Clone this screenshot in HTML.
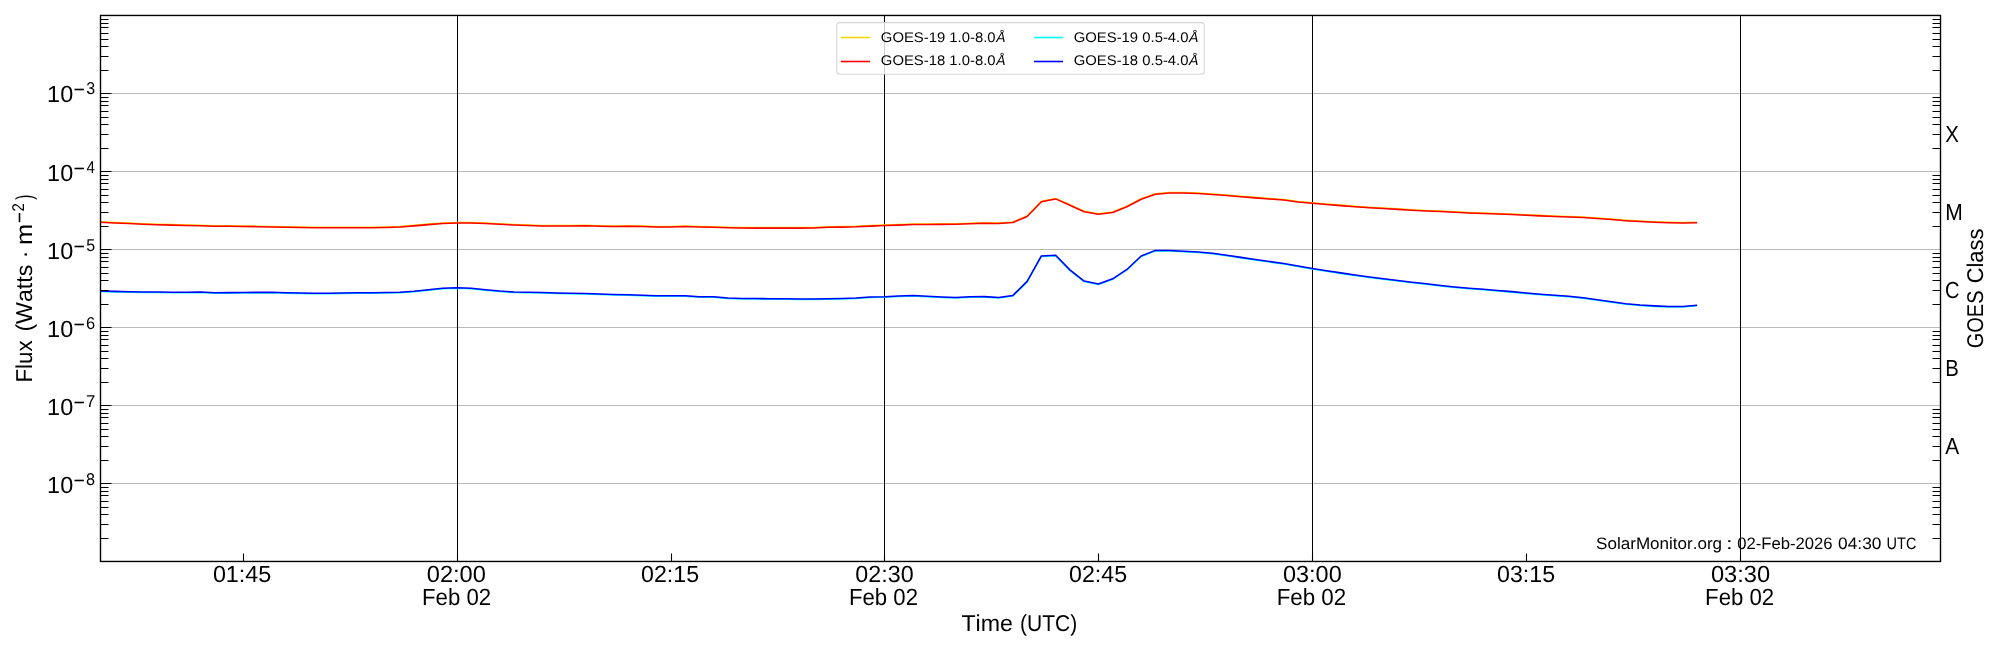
<!DOCTYPE html><html><head><meta charset="utf-8"><style>html,body{margin:0;padding:0;background:#fff;overflow:hidden;width:2000px;height:650px;}svg{display:block;will-change:transform;}</style></head><body><svg width="2000" height="650" viewBox="0 0 2000 650">
<rect x="0" y="0" width="2000" height="650" fill="#ffffff"/>
<defs><clipPath id="ax"><rect x="100.5" y="15.46" width="1840" height="546"/></clipPath></defs>
<path d="M100.5,93.5 H1940.5 M100.5,171.5 H1940.5 M100.5,249.5 H1940.5 M100.5,327.5 H1940.5 M100.5,405.5 H1940.5 M100.5,483.5 H1940.5" stroke="#b9b9b9" stroke-width="1" fill="none"/>
<path d="M457.5,15.46 V561.46 M884.5,15.46 V561.46 M1312.5,15.46 V561.46 M1740.5,15.46 V561.46" stroke="#000" stroke-width="1" fill="none"/>
<g clip-path="url(#ax)" fill="none" stroke-width="1.55" stroke-linejoin="round" stroke-linecap="butt">
<path d="M86.26,221.80 L100.51,221.80 L114.77,222.42 L129.02,223.06 L143.28,223.70 L157.53,224.23 L171.79,224.64 L186.04,224.92 L200.30,225.31 L214.56,225.65 L228.81,225.79 L243.07,225.93 L257.32,226.15 L271.58,226.43 L285.83,226.66 L300.09,226.90 L314.34,227.28 L328.60,227.30 L342.86,227.30 L357.11,227.30 L371.37,227.27 L385.62,226.98 L399.88,226.60 L414.13,225.38 L428.39,224.14 L442.64,223.03 L456.90,222.52 L471.16,222.50 L485.41,223.07 L499.67,223.78 L513.92,224.50 L528.18,225.00 L542.43,225.40 L556.69,225.60 L570.94,225.50 L585.20,225.31 L599.46,225.80 L613.71,226.00 L627.97,225.70 L642.22,226.09 L656.48,226.50 L670.73,226.50 L684.99,226.10 L699.24,226.57 L713.50,226.79 L727.76,227.29 L742.01,227.59 L756.27,227.60 L770.52,227.60 L784.78,227.60 L799.03,227.60 L813.29,227.50 L827.54,226.82 L841.80,226.61 L856.06,226.31 L870.31,225.63 L884.57,225.02 L898.82,224.63 L913.08,224.00 L927.33,223.93 L941.59,223.86 L955.84,223.77 L970.10,223.28 L984.36,222.81 L998.61,222.96 L1012.87,222.01 L1027.12,216.07 L1041.38,201.32 L1055.63,198.41 L1069.89,204.75 L1084.14,211.23 L1098.40,213.80 L1112.66,212.09 L1126.91,206.24 L1141.17,198.74 L1155.42,193.80 L1169.68,192.43 L1183.93,192.40 L1198.19,193.01 L1212.44,193.96 L1226.70,194.98 L1240.96,196.20 L1255.21,197.38 L1269.47,198.56 L1283.72,199.58 L1297.98,201.40 L1312.23,202.77 L1326.49,204.00 L1340.74,205.11 L1355.00,206.18 L1369.26,207.24 L1383.51,208.04 L1397.77,208.87 L1412.02,209.70 L1426.28,210.41 L1440.53,211.07 L1454.79,211.76 L1469.04,212.55 L1483.30,213.04 L1497.56,213.52 L1511.81,214.02 L1526.07,214.70 L1540.32,215.39 L1554.58,215.92 L1568.83,216.42 L1583.09,217.02 L1597.34,217.95 L1611.60,219.10 L1625.86,220.15 L1640.11,220.97 L1654.37,221.69 L1668.62,222.22 L1682.88,222.55 L1697.13,222.31" stroke="#FFD700"/>
<path d="M86.26,222.30 L100.51,222.30 L114.77,222.92 L129.02,223.56 L143.28,224.20 L157.53,224.73 L171.79,225.14 L186.04,225.42 L200.30,225.81 L214.56,226.15 L228.81,226.29 L243.07,226.43 L257.32,226.65 L271.58,226.93 L285.83,227.16 L300.09,227.40 L314.34,227.78 L328.60,227.80 L342.86,227.80 L357.11,227.80 L371.37,227.77 L385.62,227.48 L399.88,227.10 L414.13,225.88 L428.39,224.64 L442.64,223.53 L456.90,223.02 L471.16,223.00 L485.41,223.57 L499.67,224.28 L513.92,225.00 L528.18,225.50 L542.43,225.90 L556.69,226.10 L570.94,226.00 L585.20,225.81 L599.46,226.30 L613.71,226.50 L627.97,226.20 L642.22,226.59 L656.48,227.00 L670.73,227.00 L684.99,226.60 L699.24,227.07 L713.50,227.29 L727.76,227.79 L742.01,228.09 L756.27,228.10 L770.52,228.10 L784.78,228.10 L799.03,228.10 L813.29,228.00 L827.54,227.32 L841.80,227.11 L856.06,226.81 L870.31,226.13 L884.57,225.52 L898.82,225.13 L913.08,224.50 L927.33,224.43 L941.59,224.36 L955.84,224.27 L970.10,223.78 L984.36,223.31 L998.61,223.46 L1012.87,222.51 L1027.12,216.57 L1041.38,201.82 L1055.63,198.91 L1069.89,205.25 L1084.14,211.73 L1098.40,214.30 L1112.66,212.59 L1126.91,206.74 L1141.17,199.24 L1155.42,194.30 L1169.68,192.93 L1183.93,192.90 L1198.19,193.51 L1212.44,194.46 L1226.70,195.48 L1240.96,196.70 L1255.21,197.88 L1269.47,199.06 L1283.72,200.08 L1297.98,201.90 L1312.23,203.27 L1326.49,204.50 L1340.74,205.61 L1355.00,206.68 L1369.26,207.74 L1383.51,208.54 L1397.77,209.37 L1412.02,210.20 L1426.28,210.91 L1440.53,211.57 L1454.79,212.26 L1469.04,213.05 L1483.30,213.54 L1497.56,214.02 L1511.81,214.52 L1526.07,215.20 L1540.32,215.89 L1554.58,216.42 L1568.83,216.92 L1583.09,217.52 L1597.34,218.45 L1611.60,219.60 L1625.86,220.65 L1640.11,221.47 L1654.37,222.19 L1668.62,222.72 L1682.88,223.05 L1697.13,222.81" stroke="#FF0000"/>
<path d="M86.26,291.50 L100.51,291.50 L114.77,291.89 L129.02,292.27 L143.28,292.43 L157.53,292.58 L171.79,292.70 L186.04,292.69 L200.30,292.51 L214.56,293.18 L228.81,293.11 L243.07,292.97 L257.32,292.86 L271.58,292.85 L285.83,293.31 L300.09,293.50 L314.34,293.79 L328.60,293.71 L342.86,293.44 L357.11,293.26 L371.37,293.18 L385.62,292.99 L399.88,292.70 L414.13,291.76 L428.39,290.18 L442.64,288.74 L456.90,288.22 L471.16,288.67 L485.41,290.23 L499.67,291.57 L513.92,292.50 L528.18,292.80 L542.43,293.10 L556.69,293.49 L570.94,293.80 L585.20,294.01 L599.46,294.50 L613.71,294.99 L627.97,295.20 L642.22,295.79 L656.48,296.30 L670.73,296.30 L684.99,296.30 L699.24,297.15 L713.50,297.20 L727.76,298.48 L742.01,298.98 L756.27,299.09 L770.52,299.20 L784.78,299.30 L799.03,299.49 L813.29,299.50 L827.54,299.21 L841.80,299.01 L856.06,298.52 L870.31,297.55 L884.57,297.21 L898.82,296.55 L913.08,296.10 L927.33,296.82 L941.59,297.53 L955.84,298.05 L970.10,297.30 L984.36,297.13 L998.61,298.01 L1012.87,295.92 L1027.12,281.88 L1041.38,256.48 L1055.63,255.73 L1069.89,270.39 L1084.14,281.53 L1098.40,284.50 L1112.66,279.33 L1126.91,269.96 L1141.17,256.44 L1155.42,250.90 L1169.68,250.90 L1183.93,251.70 L1198.19,252.52 L1212.44,253.85 L1226.70,255.66 L1240.96,257.89 L1255.21,260.07 L1269.47,262.03 L1283.72,264.06 L1297.98,266.50 L1312.23,268.95 L1326.49,271.24 L1340.74,273.36 L1355.00,275.40 L1369.26,277.40 L1383.51,279.19 L1397.77,280.97 L1412.02,282.72 L1426.28,284.29 L1440.53,285.91 L1454.79,287.43 L1469.04,288.71 L1483.30,289.82 L1497.56,290.91 L1511.81,292.11 L1526.07,293.59 L1540.32,294.82 L1554.58,295.83 L1568.83,296.68 L1583.09,298.27 L1597.34,300.20 L1611.60,302.34 L1625.86,304.22 L1640.11,305.50 L1654.37,306.38 L1668.62,307.09 L1682.88,307.03 L1697.13,305.84" stroke="#00FFFF"/>
<path d="M86.26,291.00 L100.51,291.00 L114.77,291.39 L129.02,291.77 L143.28,291.93 L157.53,292.08 L171.79,292.20 L186.04,292.19 L200.30,292.01 L214.56,292.68 L228.81,292.61 L243.07,292.47 L257.32,292.36 L271.58,292.35 L285.83,292.81 L300.09,293.00 L314.34,293.29 L328.60,293.21 L342.86,292.94 L357.11,292.76 L371.37,292.68 L385.62,292.49 L399.88,292.20 L414.13,291.26 L428.39,289.68 L442.64,288.24 L456.90,287.72 L471.16,288.17 L485.41,289.73 L499.67,291.07 L513.92,292.00 L528.18,292.30 L542.43,292.60 L556.69,292.99 L570.94,293.30 L585.20,293.51 L599.46,294.00 L613.71,294.49 L627.97,294.70 L642.22,295.29 L656.48,295.80 L670.73,295.80 L684.99,295.80 L699.24,296.65 L713.50,296.70 L727.76,297.98 L742.01,298.48 L756.27,298.59 L770.52,298.70 L784.78,298.80 L799.03,298.99 L813.29,299.00 L827.54,298.71 L841.80,298.51 L856.06,298.02 L870.31,297.05 L884.57,296.71 L898.82,296.05 L913.08,295.60 L927.33,296.32 L941.59,297.03 L955.84,297.55 L970.10,296.80 L984.36,296.63 L998.61,297.51 L1012.87,295.42 L1027.12,281.38 L1041.38,255.98 L1055.63,255.23 L1069.89,269.89 L1084.14,281.03 L1098.40,284.00 L1112.66,278.83 L1126.91,269.46 L1141.17,255.94 L1155.42,250.40 L1169.68,250.40 L1183.93,251.20 L1198.19,252.02 L1212.44,253.35 L1226.70,255.16 L1240.96,257.39 L1255.21,259.57 L1269.47,261.53 L1283.72,263.56 L1297.98,266.00 L1312.23,268.45 L1326.49,270.74 L1340.74,272.86 L1355.00,274.90 L1369.26,276.90 L1383.51,278.69 L1397.77,280.47 L1412.02,282.22 L1426.28,283.79 L1440.53,285.41 L1454.79,286.93 L1469.04,288.21 L1483.30,289.32 L1497.56,290.41 L1511.81,291.61 L1526.07,293.09 L1540.32,294.32 L1554.58,295.33 L1568.83,296.18 L1583.09,297.77 L1597.34,299.70 L1611.60,301.84 L1625.86,303.72 L1640.11,305.00 L1654.37,305.88 L1668.62,306.59 L1682.88,306.53 L1697.13,305.34" stroke="#0000FF"/>
</g>
<path d="M100.5,15.5 h11 M100.5,70.5 h8 M1940.5,70.5 h-8 M100.5,56.5 h8 M1940.5,56.5 h-8 M100.5,46.5 h8 M1940.5,46.5 h-8 M100.5,39.5 h8 M1940.5,39.5 h-8 M100.5,33.5 h8 M1940.5,33.5 h-8 M100.5,27.5 h8 M1940.5,27.5 h-8 M100.5,23.5 h8 M1940.5,23.5 h-8 M100.5,19.5 h8 M1940.5,19.5 h-8 M100.5,93.5 h11 M100.5,148.5 h8 M1940.5,148.5 h-8 M100.5,134.5 h8 M1940.5,134.5 h-8 M100.5,124.5 h8 M1940.5,124.5 h-8 M100.5,117.5 h8 M1940.5,117.5 h-8 M100.5,111.5 h8 M1940.5,111.5 h-8 M100.5,105.5 h8 M1940.5,105.5 h-8 M100.5,101.5 h8 M1940.5,101.5 h-8 M100.5,97.5 h8 M1940.5,97.5 h-8 M100.5,171.5 h11 M100.5,226.5 h8 M1940.5,226.5 h-8 M100.5,212.5 h8 M1940.5,212.5 h-8 M100.5,202.5 h8 M1940.5,202.5 h-8 M100.5,195.5 h8 M1940.5,195.5 h-8 M100.5,189.5 h8 M1940.5,189.5 h-8 M100.5,183.5 h8 M1940.5,183.5 h-8 M100.5,179.5 h8 M1940.5,179.5 h-8 M100.5,175.5 h8 M1940.5,175.5 h-8 M100.5,249.5 h11 M100.5,304.5 h8 M1940.5,304.5 h-8 M100.5,290.5 h8 M1940.5,290.5 h-8 M100.5,280.5 h8 M1940.5,280.5 h-8 M100.5,273.5 h8 M1940.5,273.5 h-8 M100.5,267.5 h8 M1940.5,267.5 h-8 M100.5,261.5 h8 M1940.5,261.5 h-8 M100.5,257.5 h8 M1940.5,257.5 h-8 M100.5,253.5 h8 M1940.5,253.5 h-8 M100.5,327.5 h11 M100.5,382.5 h8 M1940.5,382.5 h-8 M100.5,368.5 h8 M1940.5,368.5 h-8 M100.5,358.5 h8 M1940.5,358.5 h-8 M100.5,351.5 h8 M1940.5,351.5 h-8 M100.5,345.5 h8 M1940.5,345.5 h-8 M100.5,339.5 h8 M1940.5,339.5 h-8 M100.5,335.5 h8 M1940.5,335.5 h-8 M100.5,331.5 h8 M1940.5,331.5 h-8 M100.5,405.5 h11 M100.5,460.5 h8 M1940.5,460.5 h-8 M100.5,446.5 h8 M1940.5,446.5 h-8 M100.5,436.5 h8 M1940.5,436.5 h-8 M100.5,429.5 h8 M1940.5,429.5 h-8 M100.5,423.5 h8 M1940.5,423.5 h-8 M100.5,417.5 h8 M1940.5,417.5 h-8 M100.5,413.5 h8 M1940.5,413.5 h-8 M100.5,409.5 h8 M1940.5,409.5 h-8 M100.5,483.5 h11 M100.5,538.5 h8 M1940.5,538.5 h-8 M100.5,524.5 h8 M1940.5,524.5 h-8 M100.5,514.5 h8 M1940.5,514.5 h-8 M100.5,507.5 h8 M1940.5,507.5 h-8 M100.5,501.5 h8 M1940.5,501.5 h-8 M100.5,495.5 h8 M1940.5,495.5 h-8 M100.5,491.5 h8 M1940.5,491.5 h-8 M100.5,487.5 h8 M1940.5,487.5 h-8 M100.5,561.5 h11 M243.5,561.46 v-8 M457.5,561.46 v-8 M671.5,561.46 v-8 M884.5,561.46 v-8 M1098.5,561.46 v-8 M1312.5,561.46 v-8 M1526.5,561.46 v-8 M1740.5,561.46 v-8" stroke="#000" stroke-width="1.1" fill="none"/>
<rect x="100.5" y="15.46" width="1840.0" height="546.0" fill="none" stroke="#000" stroke-width="1.39"/>
<rect x="836.8" y="22.6" width="367.4" height="51.6" rx="3" ry="3" fill="#ffffff" fill-opacity="0.8" stroke="#cccccc" stroke-opacity="0.8" stroke-width="1.1"/>
<g stroke-width="1.6">
<path d="M840.8,37.5 H870.2" stroke="#FFD700"/>
<path d="M840.8,61.5 H870.2" stroke="#FF0000"/>
<path d="M1033.9,37.5 H1063" stroke="#00FFFF"/>
<path d="M1033.9,61.5 H1063" stroke="#0000FF"/>
</g>
<g font-family='"Liberation Sans", sans-serif' fill="#000" style="font-kerning:none;text-rendering:geometricPrecision">
<text x="880.85" y="41.80" font-size="14" textLength="114.73" lengthAdjust="spacingAndGlyphs">GOES-19 1.0-8.0</text>
<text x="880.85" y="65.00" font-size="14" textLength="114.73" lengthAdjust="spacingAndGlyphs">GOES-18 1.0-8.0</text>
<text x="1073.75" y="41.80" font-size="14" textLength="114.73" lengthAdjust="spacingAndGlyphs">GOES-19 0.5-4.0</text>
<text x="1073.75" y="65.00" font-size="14" textLength="114.73" lengthAdjust="spacingAndGlyphs">GOES-18 0.5-4.0</text>
<text x="996.18" y="41.80" font-size="14" textLength="9.26" lengthAdjust="spacingAndGlyphs" font-style="italic">Å</text>
<text x="996.18" y="65.00" font-size="14" textLength="9.26" lengthAdjust="spacingAndGlyphs" font-style="italic">Å</text>
<text x="1189.10" y="41.80" font-size="14" textLength="9.46" lengthAdjust="spacingAndGlyphs" font-style="italic">Å</text>
<text x="1189.10" y="65.00" font-size="14" textLength="9.46" lengthAdjust="spacingAndGlyphs" font-style="italic">Å</text>
<text x="47.11" y="102.00" font-size="23.4" textLength="26.10" lengthAdjust="spacingAndGlyphs">10</text>
<rect x="74.5" y="88.70" width="9.4" height="1.6"/>
<text x="86.19" y="93.90" font-size="17.1" textLength="8.91" lengthAdjust="spacingAndGlyphs">3</text>
<text x="47.11" y="181.00" font-size="23.4" textLength="26.10" lengthAdjust="spacingAndGlyphs">10</text>
<rect x="74.5" y="167.70" width="9.4" height="1.6"/>
<text x="86.45" y="172.90" font-size="17.1" textLength="8.39" lengthAdjust="spacingAndGlyphs">4</text>
<text x="47.11" y="259.00" font-size="23.4" textLength="26.10" lengthAdjust="spacingAndGlyphs">10</text>
<rect x="74.5" y="245.70" width="9.4" height="1.6"/>
<text x="86.16" y="250.90" font-size="17.1" textLength="8.91" lengthAdjust="spacingAndGlyphs">5</text>
<text x="47.11" y="337.00" font-size="23.4" textLength="26.10" lengthAdjust="spacingAndGlyphs">10</text>
<rect x="74.5" y="323.70" width="9.4" height="1.6"/>
<text x="85.96" y="328.90" font-size="17.1" textLength="9.16" lengthAdjust="spacingAndGlyphs">6</text>
<text x="47.11" y="415.00" font-size="23.4" textLength="26.10" lengthAdjust="spacingAndGlyphs">10</text>
<rect x="74.5" y="401.70" width="9.4" height="1.6"/>
<text x="85.94" y="406.90" font-size="17.1" textLength="9.30" lengthAdjust="spacingAndGlyphs">7</text>
<text x="47.11" y="493.00" font-size="23.4" textLength="26.10" lengthAdjust="spacingAndGlyphs">10</text>
<rect x="74.5" y="479.70" width="9.4" height="1.6"/>
<text x="86.10" y="484.90" font-size="17.1" textLength="9.01" lengthAdjust="spacingAndGlyphs">8</text>
<text x="212.89" y="581.90" font-size="23.4" textLength="58.49" lengthAdjust="spacingAndGlyphs">01:45</text>
<text x="426.78" y="581.90" font-size="23.4" textLength="59.15" lengthAdjust="spacingAndGlyphs">02:00</text>
<text x="421.98" y="605.00" font-size="23.4" textLength="69.14" lengthAdjust="spacingAndGlyphs">Feb 02</text>
<text x="640.99" y="581.90" font-size="23.4" textLength="58.08" lengthAdjust="spacingAndGlyphs">02:15</text>
<text x="855.29" y="581.90" font-size="23.4" textLength="58.32" lengthAdjust="spacingAndGlyphs">02:30</text>
<text x="848.98" y="605.00" font-size="23.4" textLength="69.03" lengthAdjust="spacingAndGlyphs">Feb 02</text>
<text x="1069.09" y="581.90" font-size="23.4" textLength="57.98" lengthAdjust="spacingAndGlyphs">02:45</text>
<text x="1282.98" y="581.90" font-size="23.4" textLength="58.73" lengthAdjust="spacingAndGlyphs">03:00</text>
<text x="1276.67" y="605.00" font-size="23.4" textLength="69.56" lengthAdjust="spacingAndGlyphs">Feb 02</text>
<text x="1496.99" y="581.90" font-size="23.4" textLength="58.08" lengthAdjust="spacingAndGlyphs">03:15</text>
<text x="1710.98" y="581.90" font-size="23.4" textLength="59.15" lengthAdjust="spacingAndGlyphs">03:30</text>
<text x="1705.08" y="605.00" font-size="23.4" textLength="69.14" lengthAdjust="spacingAndGlyphs">Feb 02</text>
<text x="961.38" y="630.90" font-size="23" textLength="51.55" lengthAdjust="spacingAndGlyphs">Time</text>
<text x="1020.10" y="630.90" font-size="23" textLength="57.21" lengthAdjust="spacingAndGlyphs">(UTC)</text>
<text x="1945.34" y="141.90" font-size="23.2" textLength="13.59" lengthAdjust="spacingAndGlyphs">X</text>
<text x="1945.27" y="219.90" font-size="23.2" textLength="17.56" lengthAdjust="spacingAndGlyphs">M</text>
<text x="1945.08" y="297.50" font-size="23.2" textLength="14.48" lengthAdjust="spacingAndGlyphs">C</text>
<text x="1945.34" y="375.80" font-size="23.2" textLength="13.53" lengthAdjust="spacingAndGlyphs">B</text>
<text x="1945.16" y="453.80" font-size="23.2" textLength="13.88" lengthAdjust="spacingAndGlyphs">A</text>
<text x="1596.13" y="548.70" font-size="16.6" textLength="125.97" lengthAdjust="spacingAndGlyphs">SolarMonitor.org</text>
<text x="1726.09" y="548.70" font-size="16.6" textLength="6.71" lengthAdjust="spacingAndGlyphs">:</text>
<text x="1737.25" y="548.70" font-size="16.6" textLength="95.38" lengthAdjust="spacingAndGlyphs">02-Feb-2026</text>
<text x="1838.12" y="548.70" font-size="16.6" textLength="43.35" lengthAdjust="spacingAndGlyphs">04:30</text>
<text x="1886.58" y="548.70" font-size="16.6" textLength="29.77" lengthAdjust="spacingAndGlyphs">UTC</text>
<g transform="rotate(-90)">
<text x="-348.31" y="1982.70" font-size="22.8" textLength="57.82" lengthAdjust="spacingAndGlyphs">GOES</text>
<text x="-283.31" y="1982.70" font-size="22.8" textLength="54.60" lengthAdjust="spacingAndGlyphs">Class</text>
<text x="-382.53" y="31.90" font-size="23" textLength="42.17" lengthAdjust="spacingAndGlyphs">Flux</text>
<text x="-331.64" y="31.90" font-size="23" textLength="66.98" lengthAdjust="spacingAndGlyphs">(Watts</text>
<text x="-258.34" y="31.90" font-size="23" textLength="7.69" lengthAdjust="spacingAndGlyphs">·</text>
<text x="-245.10" y="31.90" font-size="23" textLength="21.28" lengthAdjust="spacingAndGlyphs">m</text>
<text x="-211.55" y="23.80" font-size="17" textLength="8.30" lengthAdjust="spacingAndGlyphs">2</text>
<rect x="-222.2" y="18.7" width="9.2" height="1.6"/>
<text x="-199.69" y="31.90" font-size="23" textLength="5.15" lengthAdjust="spacingAndGlyphs">)</text>
</g>
</g>
</svg></body></html>
